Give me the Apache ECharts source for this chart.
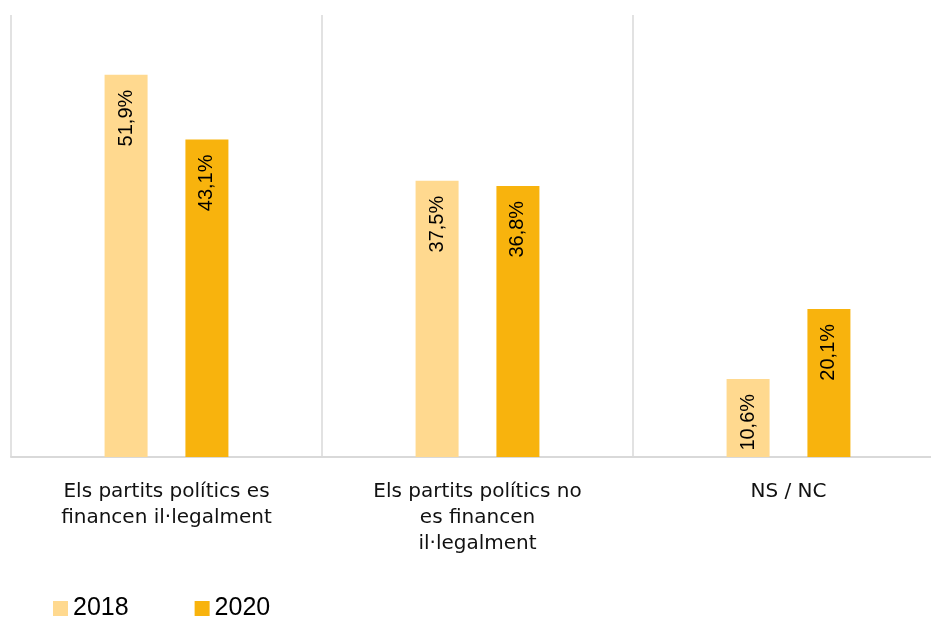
<!DOCTYPE html>
<html><head><meta charset="utf-8">
<script src="https://cdn.jsdelivr.net/npm/echarts@6/dist/echarts.min.js"></script>
<style>html,body{margin:0;padding:0;background:#fff}#c{width:931px;height:618px}</style>
</head><body><div id="c"></div>
<script>
const categories = ["Els partits polítics es\nfinancen il·legalment", "Els partits polítics no\nes financen\nil·legalment", "NS / NC"];
const seriesNames = ["2018", "2020"];
const values2018 = [51.9, 37.5, 10.6];
const values2020 = [43.1, 36.8, 20.1];
const colors = ["#FFD98F", "#F8B30D"];

const chart = echarts.init(document.getElementById('c'));
const lbl = {
  show: true, position: 'insideTop', distance: 15, rotate: 90, align: 'right', verticalAlign: 'middle',
  fontFamily: 'Liberation Sans, Arial, sans-serif', fontSize: 20, color: '#000',
  formatter: p => p.value.toFixed(1).replace('.', ',') + '%'
};
chart.setOption({
  animation: false,
  grid: { left: 11, right: -13, top: 15, bottom: 161, containLabel: false, outerBoundsMode: 'none' },
  legend: {
    left: 48, top: 591, itemWidth: 15, itemHeight: 15, itemGap: 66, icon: 'rect',
    textStyle: { fontFamily: 'Liberation Sans, Arial, sans-serif', fontSize: 25, color: '#000' },
    data: seriesNames
  },
  xAxis: {
    type: 'category', data: categories,
    axisTick: { show: false },
    axisLine: { lineStyle: { color: '#d9d9d9', width: 2 } },
    splitLine: { show: true, lineStyle: { color: '#d9d9d9', width: 1.5 } },
    axisLabel: { interval: 0, margin: 22, fontFamily: 'DejaVu Sans, sans-serif', fontSize: 20, lineHeight: 26, color: '#111' }
  },
  yAxis: { type: 'value', min: 0, max: 60, show: false, splitLine: { show: false } },
  series: [
    { name: seriesNames[0], type: 'bar', data: values2018, barWidth: 43, barGap: '88%', itemStyle: { color: colors[0] }, label: lbl },
    { name: seriesNames[1], type: 'bar', data: values2020, barWidth: 43, barGap: '88%', itemStyle: { color: colors[1] }, label: lbl }
  ]
});
</script></body></html>
